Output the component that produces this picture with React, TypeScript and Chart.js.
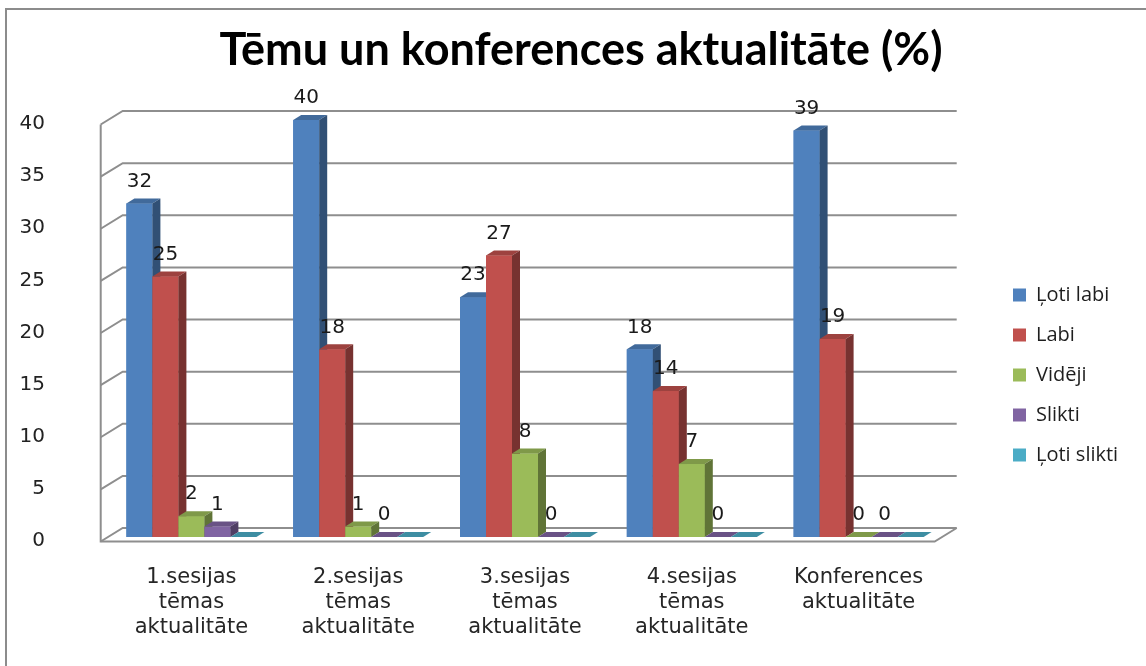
import { useEffect, useRef } from 'react';
import { Chart, registerables } from 'chart.js';

Chart.register(...registerables);

// ---- data ----
const categories: string[][] = [
  ['1.sesijas', 'tēmas', 'aktualitāte'],
  ['2.sesijas', 'tēmas', 'aktualitāte'],
  ['3.sesijas', 'tēmas', 'aktualitāte'],
  ['4.sesijas', 'tēmas', 'aktualitāte'],
  ['Konferences', 'aktualitāte'],
];
const seriesNames = ['Ļoti labi', 'Labi', 'Vidēji', 'Slikti', 'Ļoti slikti'];
const lotiLabi = [32, 40, 23, 18, 39];
const labi = [25, 18, 27, 14, 19];
const videji = [2, 1, 8, 7, 0];
const slikti = [1, 0, 0, 0, 0];
const lotiSlikti = [0, 0, 0, 0, 0];
const seriesShowsLabels = [true, true, true, true, false];
const yTicks = [0, 5, 10, 15, 20, 25, 30, 35, 40];
const titleText = 'Tēmu un konferences aktualitāte (%)';

// ---- styles ----
const W = 1146;
const H = 666;
const frontColors = ['#4F81BD', '#C0504D', '#9BBB59', '#8064A2', '#4BACC6'];
const FRONT = { dx: -7.3, dy: 4.5 };
const BACK = { dx: 14.7, dy: -9 };
const DEPTH = { dx: 8, dy: -5 };
const AREA_LEFT = 108;
const AREA_RIGHT = 942;
const LEGEND_LEFT = 993;
const LEGEND_PAD = 20;
const LEGEND_BOX = 13;
const PAD_L = 16;
const AXIS_FONT = '"DejaVu Sans"';

function shade(hex: string, f: number) {
  const n = parseInt(hex.slice(1), 16);
  const r = Math.round(((n >> 16) & 255) * f);
  const g = Math.round(((n >> 8) & 255) * f);
  const b = Math.round((n & 255) * f);
  return `rgb(${r},${g},${b})`;
}

function poly(ctx: CanvasRenderingContext2D, pts: number[][], color: string) {
  ctx.beginPath();
  ctx.moveTo(pts[0][0], pts[0][1]);
  for (let i = 1; i < pts.length; i++) ctx.lineTo(pts[i][0], pts[i][1]);
  ctx.closePath();
  ctx.fillStyle = color;
  ctx.fill();
}

// the legend box reaches from LEGEND_LEFT to the right edge
const legendWidthPlugin = {
  id: 'legendWidth',
  beforeLayout(chart: any) {
    const lg = chart.legend;
    if (lg && !lg.__fixedWidth) {
      const orig = lg.fit;
      lg.fit = function (this: any) {
        orig.call(this);
        if (this.options.display) this.width = W - LEGEND_LEFT;
      };
      lg.__fixedWidth = true;
    }
  },
};

const wallsPlugin = {
  id: 'walls3d',
  beforeDatasetsDraw(chart: any) {
    const { ctx, chartArea: a } = chart;
    const y = chart.scales.y;
    ctx.save();
    ctx.strokeStyle = '#8e8e8e';
    ctx.lineWidth = 2;
    for (const v of yTicks) {
      const yp = y.getPixelForValue(v);
      ctx.beginPath();
      ctx.moveTo(a.left + FRONT.dx, yp + FRONT.dy);
      ctx.lineTo(a.left + BACK.dx, yp + BACK.dy);
      ctx.lineTo(a.right + BACK.dx, yp + BACK.dy);
      ctx.stroke();
    }
    const y0 = y.getPixelForValue(yTicks[0]);
    const yMax = y.getPixelForValue(yTicks[yTicks.length - 1]);
    ctx.beginPath();
    ctx.moveTo(a.left + FRONT.dx, yMax + FRONT.dy);
    ctx.lineTo(a.left + FRONT.dx, y0 + FRONT.dy);
    ctx.lineTo(a.right + FRONT.dx, y0 + FRONT.dy);
    ctx.lineTo(a.right + BACK.dx, y0 + BACK.dy);
    ctx.stroke();
    ctx.restore();
  },
};

const barsPlugin = {
  id: 'bars3d',
  afterDatasetsDraw(chart: any) {
    const { ctx } = chart;
    ctx.save();
    const nDs = chart.data.datasets.length;
    for (let i = 0; i < categories.length; i++) {
      for (let d = 0; d < nDs; d++) {
        const el = chart.getDatasetMeta(d).data[i];
        const { x, y, base, width } = el.getProps(['x', 'y', 'base', 'width'], true);
        const l = x - width / 2;
        const r = x + width / 2;
        const c = frontColors[d];
        ctx.fillStyle = c;
        ctx.fillRect(l, y, width, base - y);
        poly(ctx, [[l, y], [l + DEPTH.dx, y + DEPTH.dy], [r + DEPTH.dx, y + DEPTH.dy], [r, y]], shade(c, 0.82));
        poly(ctx, [[r, y], [r + DEPTH.dx, y + DEPTH.dy], [r + DEPTH.dx, base + DEPTH.dy], [r, base]], shade(c, 0.62));
      }
    }
    ctx.font = `20px ${AXIS_FONT}`;
    ctx.fillStyle = '#1a1a1a';
    ctx.textAlign = 'center';
    ctx.textBaseline = 'middle';
    for (let d = 0; d < nDs; d++) {
      if (!seriesShowsLabels[d]) continue;
      const meta = chart.getDatasetMeta(d);
      meta.data.forEach((el: any, i: number) => {
        const { x, y } = el.getProps(['x', 'y'], true);
        ctx.fillText(String(chart.data.datasets[d].data[i]), x, y - 22);
      });
    }
    ctx.restore();
  },
};

export default function App() {
  const ref = useRef<HTMLCanvasElement>(null);
  useEffect(() => {
    const canvas = ref.current;
    if (!canvas) return;
    const values = [lotiLabi, labi, videji, slikti, lotiSlikti];
    const chart = new Chart(canvas, {
      type: 'bar',
      data: {
        labels: categories,
        datasets: seriesNames.map((name, i) => ({
          label: name,
          data: values[i],
          backgroundColor: frontColors[i],
          borderWidth: 0,
          categoryPercentage: 130 / 166.8,
          barPercentage: 1,
        })),
      },
      options: {
        responsive: false,
        animation: false,
        devicePixelRatio: 1,
        layout: { padding: { left: PAD_L, right: 0, top: 0, bottom: 0 } },
        plugins: {
          tooltip: { enabled: false },
          title: {
            display: true,
            text: titleText,
            color: '#000',
            font: { family: 'Lato', size: 45, weight: 'bold', lineHeight: 1.2 },
            padding: { top: 23, bottom: 120 - 23 - 54 },
          },
          legend: {
            display: true,
            position: 'right',
            align: 'center',
            title: { display: true, text: '', font: { size: 10, lineHeight: 1.2 }, padding: { top: 72, bottom: 0 } },
            labels: {
              boxWidth: LEGEND_BOX,
              boxHeight: LEGEND_BOX,
              padding: LEGEND_PAD,
              color: '#1e1e1e',
              font: { family: '"Open Sans"', size: 20 },
            },
          },
        },
        scales: {
          x: {
            grid: { display: false, drawTicks: false },
            border: { display: false },
            ticks: {
              color: '#262626',
              font: { family: AXIS_FONT, size: 21, lineHeight: 25 / 21 },
              padding: 28.5,
              maxRotation: 0,
              autoSkip: false,
            },
            afterFit: (s: any) => {
              s.height = H - 537;
            },
          },
          y: {
            min: 0,
            max: 40,
            grid: { display: false, drawTicks: false },
            border: { display: false },
            ticks: {
              stepSize: 5,
              color: '#222',
              font: { family: AXIS_FONT, size: 20 },
              padding: AREA_LEFT - 45,
              labelOffset: 4,
            },
            afterFit: (s: any) => {
              s.width = AREA_LEFT - PAD_L;
            },
          },
          y2: {
            position: 'right',
            display: true,
            grid: { display: false, drawTicks: false },
            border: { display: false },
            ticks: { display: false },
            afterFit: (s: any) => {
              s.width = LEGEND_LEFT - AREA_RIGHT;
            },
          },
        },
      } as any,
      plugins: [legendWidthPlugin, wallsPlugin, barsPlugin],
    });
    return () => chart.destroy();
  }, []);

  return (
    <div style={{ position: 'absolute', left: 0, top: 0, width: W, height: H, overflow: 'hidden', background: '#fff' }}>
      <div
        style={{
          position: 'absolute',
          left: 5,
          top: 8,
          width: W + 100,
          height: H + 100,
          borderLeft: '2px solid #8c8c8c',
          borderTop: '2px solid #8c8c8c',
        }}
      />
      <canvas ref={ref} width={W} height={H} style={{ position: 'absolute', left: 0, top: 0 }} />
    </div>
  );
}
